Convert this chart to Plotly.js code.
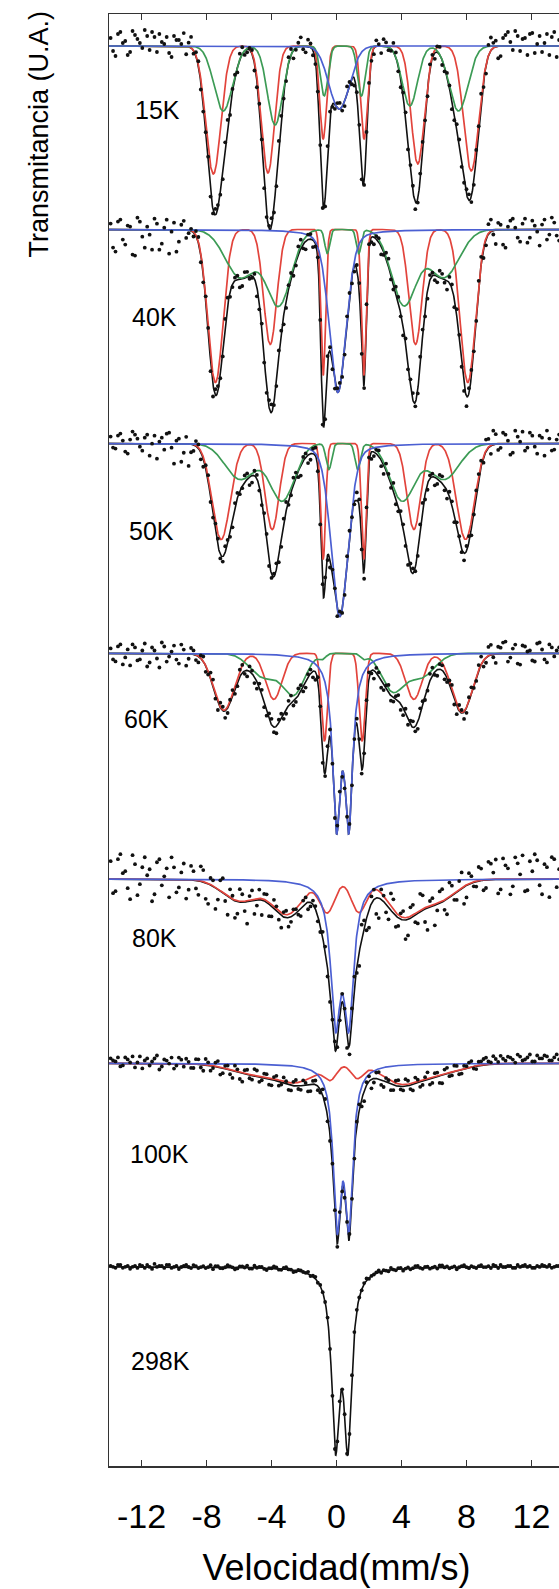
<!DOCTYPE html>
<html><head><meta charset="utf-8">
<script src="https://cdn.plot.ly/plotly-3.0.1.min.js"></script>
<style>html,body{margin:0;padding:0;overflow:hidden;background:#fff}#chart{width:584px;height:1589px}</style>
</head><body><div id="chart"></div>
<script>
// ================= DATA =================
const temperatures = ['15K','40K','50K','60K','80K','100K','298K'];
// off-resonance level of each stacked spectrum (U.A.)
const baselines = [142.0, 123.65, 102.25, 81.27, 58.7, 40.27, 19.93];

// measured velocity channels (mm/s), two interleaved halves
const channelsA = [-13.9,-13.6,-13.3,-13.0,-12.7,-12.4,-12.1,-11.8,-11.5,-11.2,-10.9,-10.6,-10.3,-10.0,-9.7,-9.4,-9.1,
 -8.8,-8.5,-8.2,-7.9,-7.6,-7.3,-7.0,-6.7,-6.4,-6.1,-5.8,-5.5,-5.2,-4.9,
 -4.6,-4.3,-4.0,-3.7,-3.4,-3.1,-2.8,-2.5,-2.2,-1.9,-1.6,-1.3,-1.0,-0.7,-0.4,-0.1,
 0.2,0.5,0.8,1.1,1.4,1.7,2.0,2.3,2.6,2.9,3.2,3.5,3.8,4.1,
 4.4,4.7,5.0,5.3,5.6,5.9,6.2,6.5,6.8,7.1,7.4,7.7,8.0,8.3,8.6,
 8.9,9.2,9.5,9.8,10.1,10.4,10.7,11.0,11.3,11.6,11.9,12.2,12.5,12.8,13.1,13.4,13.7];
const channelsB = [-13.75,-13.45,-13.15,-12.85,-12.55,-12.25,-11.95,-11.65,-11.35,-11.05,-10.75,-10.45,-10.15,-9.85,-9.55,-9.25,-8.95,
 -8.65,-8.35,-8.05,-7.75,-7.45,-7.15,-6.85,-6.55,-6.25,-5.95,-5.65,-5.35,-5.05,-4.75,
 -4.45,-4.15,-3.85,-3.55,-3.25,-2.95,-2.65,-2.35,-2.05,-1.75,-1.45,-1.15,-0.85,-0.55,-0.25,0.05,
 0.35,0.65,0.95,1.25,1.55,1.85,2.15,2.45,2.75,3.05,3.35,3.65,3.95,4.25,
 4.55,4.85,5.15,5.45,5.75,6.05,6.35,6.65,6.95,7.25,7.55,7.85,8.15,8.45,8.75,
 9.05,9.35,9.65,9.95,10.25,10.55,10.85,11.15,11.45,11.75,12.05,12.35,12.65,12.95,13.25,13.55,13.85];

// scatter of the measured points about the fitted curve (0.1 U.A.), for channelsA and channelsB
const scatter15 = [8,-10,14,5,-6,11,3,16,-4,9,12,2,-7,10,6,13,4, -3,5,-6,8,-4,3,-9,6,2,-5,7,-3,4,-6, 5,-4,8,-7,3,-5,6,-2,9,-6,4,-3,7,-8,5,-4, 6,-5,3,-7,8,-4,5,-6,2,7,-3,9,-5,4, -6,5,-4,8,-7,3,6,-5,4,-8,6,-3,5,-6,7, 9,-8,13,6,-10,11,4,15,-5,8,12,-7,10,3,-9,14,6];
const scatter15b = [-5,12,3,-9,15,7,-2,10,14,-6,4,9,-11,6,2,-8,11, 4,-7,2,-5,6,-3,5,-8,3,6,-4,2,-7,5, -6,3,-5,7,-4,6,-8,4,-3,7,-5,2,-6,8,-3,5, -4,7,-6,3,-5,8,-3,6,-7,4,-2,5,-8,6, 4,-7,6,-3,5,-6,8,-4,3,-5,7,-2,6,-4,3, -6,11,5,-12,8,14,-4,10,7,-9,13,2,-6,12,9,-11,5];
const scatter40 = [6,-22,10,-15,3,-26,8,-18,-5,11,-20,2,-24,7,-12,9,-3, -4,6,-8,3,-12,5,-6,8,-3,4,-7,5,-2,-9, 4,-6,8,-5,3,-7,6,-4,9,-8,5,-3,7,-10,4,-6, 5,-8,3,-6,9,-4,6,-7,4,-3,8,-5,6,-9, -5,7,-4,6,-8,3,-6,5,-9,4,7,-3,-10,6,-4, 8,-6,12,-14,5,-18,9,2,-12,11,-8,4,-16,10,-5,7,-11];
const scatter40b = [-18,8,-10,4,-25,12,-7,3,-20,6,-14,10,-2,-22,5,-8,2, 5,-7,4,-10,6,-4,7,-5,3,-8,6,-3,5,-6, -5,7,-3,6,-9,4,-6,8,-4,5,-7,3,-8,6,-5,4, -6,4,-7,5,-3,8,-5,3,-8,6,-4,7,-3,5, 6,-4,8,-7,5,-5,7,-3,6,-8,4,-6,5,-3,7, -9,10,-4,7,-15,3,11,-8,6,-13,9,-2,5,-10,12,-6,3];
const scatter50 = [7,-5,10,-8,4,9,-3,6,-12,8,2,-6,11,-20,5,-9,-22, -6,4,-8,6,-3,7,-5,3,-9,5,-2,6,-7,4, -5,7,-4,6,-8,9,-3,5,-10,4,-6,8,-4,6,-7,3, 5,-6,4,-3,7,-8,5,-4,6,-9,3,8,-5,4, -7,5,-4,8,-6,3,-5,7,-8,4,6,-3,5,-7,4, 6,12,-8,10,-4,9,-11,13,2,-7,11,-3,8,-12,5,-6,9];
const scatter50b = [-4,8,3,-10,12,5,-7,9,0,-15,6,10,-4,3,-18,7,-8, 5,-7,3,-5,8,-4,6,-6,4,-3,7,-8,5,-4, 6,-5,3,-7,5,-4,7,-6,4,-8,5,-3,6,-5,4,-7, -4,6,-5,8,-3,5,-7,4,-6,7,-4,-6,5,-3, 6,-4,7,-5,3,-8,6,-4,5,-6,4,-7,6,-3,5, -5,9,14,-6,11,3,-9,7,12,-4,8,-10,6,13,-7,4,-2];
const scatter60 = [5,-8,9,-4,-12,6,-6,10,-9,3,-14,7,-3,8,-10,4,-5, 4,-6,5,-3,7,-8,4,-5,6,-4,8,-6,3,-7, 5,-4,6,-7,4,-5,8,-3,6,-6,4,-8,5,-3,7,-5, 4,-6,5,-4,7,-3,6,-8,4,-5,8,-4,6,-7, -5,6,-7,4,-3,8,-6,5,-4,7,-8,3,-5,6,-4, 8,-5,10,-9,6,12,-4,9,-11,7,3,-8,11,-6,9,-3,6];
const scatter60b = [-6,7,-11,4,9,-7,3,-13,6,-5,11,-8,2,-6,9,-12,6, -5,3,-6,6,-4,5,-7,3,-5,7,-3,5,-6,4, -4,6,-5,3,-6,5,-4,7,-5,3,-6,4,-7,5,-3,6, -5,3,-6,5,-4,6,-3,5,-7,4,-5,3,-6,5, 4,-5,6,-4,7,-3,5,-6,4,-5,6,-7,4,-3,5, -6,9,-3,7,11,-8,5,-10,8,2,-7,10,4,-9,6,3,-5];
const scatter80 = [18,-12,25,8,-20,15,-5,22,10,-15,20,3,-18,12,-8,16,-10, 9,-14,12,-20,6,-10,15,-18,4,-12,8,-22,10,-6, -15,8,-10,5,-12,7,-5,4,-8,6,-4,3,-6,5,-10,8, -6,4,-9,12,-14,8,-18,10,-20,6,-12,14,-8,9, -16,12,-10,15,-22,8,-6,13,-15,10,-8,16,-12,7,-5, 12,-8,16,20,-10,14,-15,22,5,-12,18,25,-6,15,-18,20,10];
const scatter80b = [-14,20,6,-9,24,-16,12,4,-22,17,-6,11,22,-13,7,-19,14, -8,15,-16,7,-21,11,-6,9,-17,13,-9,5,-14,10, 7,-12,9,-6,5,-9,6,-4,5,-7,4,-5,6,-8,4,-6, 8,-10,11,-6,15,-12,7,-16,10,-8,17,-11,6,-19, 11,-7,18,-13,6,-20,12,-9,15,-6,9,-17,11,-4,14, -10,18,7,-14,21,11,-7,16,24,-11,8,19,-15,12,22,-8,17];
const scatter100 = [5,2,-3,6,1,-4,7,3,-2,5,-6,4,0,-5,6,-3,2, -4,5,-6,3,-2,6,-5,4,-7,3,-8,5,-4,6, -3,4,-6,5,-2,3,-5,6,-4,2,-7,4,-3,5,-6,3, 4,-5,3,-8,6,-10,5,-4,7,-6,3,-5,6,-4, 5,-6,3,-4,7,-5,4,-8,6,-3,5,-4,2,6,-3, 4,7,2,5,8,3,6,1,7,4,9,2,5,8,3,6,4];
const scatter100b = [3,6,-2,4,7,1,-5,5,2,8,-3,3,6,-2,4,5,-4, 5,-3,6,-5,4,-7,3,-4,6,-6,4,-3,7,-5, 4,-6,3,-4,6,-5,4,-3,5,-7,3,-4,6,-5,2,-3, -4,5,-6,4,-7,3,-9,6,-5,4,-6,5,-3,7, -4,6,-5,3,-6,4,-7,5,-3,6,-4,3,5,-2,4, 6,3,8,2,5,7,4,9,3,6,2,8,5,7,3,9,5];
const scatter298 = [1,-1,2,0,-2,1,2,-1,0,3,1,-1,2,0,-2,1,0, 2,-1,1,0,-2,1,-1,2,0,-1,1,2,-1,0, 1,-2,0,1,-1,2,0,-1,1,0,-1,2,1,0,-1,1, 0,1,-1,2,0,1,-1,0,2,1,-1,0,1,-2, 1,0,2,-1,1,0,-1,2,1,0,-2,1,0,1,-1, 2,0,-1,1,2,0,1,-1,0,2,1,-1,0,1,2,0,1];
const scatter298b = [0,2,-1,1,0,-1,1,2,-2,0,1,2,-1,1,0,2,-1, 1,0,-1,2,1,-1,0,1,-2,1,0,-1,2,1, -1,0,2,-1,1,0,-2,1,0,2,1,-1,0,1,2,-1, 1,-1,0,1,-1,2,0,1,-1,0,2,-1,1,0, -1,2,0,1,-1,1,2,0,-1,1,0,2,-1,0,1, 0,1,2,-1,0,1,-1,2,1,0,-1,1,2,0,-1,1,0];

// fitted sub-spectra: line positions (mm/s), depths (U.A.), widths FWHM (mm/s)
const red15Pos = [-7.58,-4.22,-0.82,1.70,5.00,8.29], red15Dep = [12.8,12.7,9.3,9.3,11.8,12.5], red15Wid = [1.1,0.95,0.5,0.5,0.95,1.1];
const grn15Pos = [-6.97,-3.78,-0.76,1.53,4.51,7.51], grn15Dep = [6.5,7.9,5.0,5.0,6.0,6.5], grn15Wid = [1.35,1.1,0.55,0.55,1.1,1.35];
const blu15Pos = [0.17], blu15Dep = [6.3], blu15Wid = [1.5];

const red40Pos = [-7.45,-4.08,-0.82,1.68,4.86,8.08], red40Dep = [15.3,11.5,14.6,14.6,11.5,15.3], red40Wid = [1.1,0.95,0.35,0.35,0.95,1.1];
const grn40Pos = [-5.91,-3.55,-0.57,1.37,4.14,6.60], grn40Dep = [4.8,7.5,2.4,2.4,7.5,4.8], grn40Wid = [2.2,1.8,0.35,0.35,1.8,2.2];
const blu40Pos = [0.08], blu40Dep = [16.3], blu40Wid = [1.25];

const red50Pos = [-7.10,-3.96,-0.82,1.68,4.76,7.94], red50Dep = [9.6,8.6,11.6,11.6,8.6,9.6], red50Wid = [1.3,1.0,0.35,0.35,1.0,1.3];
const grn50Pos = [-5.91,-3.34,-0.47,1.31,4.04,6.60], grn50Dep = [3.6,5.7,2.6,2.6,5.7,3.6], grn50Wid = [2.2,1.8,0.4,0.4,1.8,2.2];
const blu50Pos = [0.2], blu50Dep = [17.3], blu50Wid = [1.25];

const red60Pos = [-6.93,-3.86,-0.74,1.58,4.76,7.73], red60Dep = [5.7,4.6,8.8,8.8,4.6,5.9], red60Wid = [1.5,1.2,0.45,0.45,1.2,1.5];
const grn60Pos = [-4.47,-2.63,-0.88,1.68,3.43,5.17], grn60Dep = [2.4,4.0,0.5,0.5,3.6,2.4], grn60Wid = [2.0,1.6,0.5,0.5,1.6,2.0];
const blu60Pos = [0.0,0.76], blu60Dep = [16.0,16.0], blu60Wid = [0.58,0.58];

const red80Pos = [-5.91,-3.04,-0.57,1.37,4.04,6.20], red80Dep = [2.2,3.5,3.3,3.3,3.5,2.2], red80Wid = [2.6,2.2,1.1,1.1,2.2,2.6];
const blu80Pos = [-0.06,0.76], blu80Dep = [13.2,13.2], blu80Wid = [0.72,0.72];

const red100Pos = [-5.0,-2.4,-0.37,1.27,3.8,6.0], red100Dep = [1.1,1.7,1.4,1.4,1.7,1.1], red100Wid = [3.5,2.6,0.9,0.9,2.6,3.5];
const blu100Pos = [0.04,0.76], blu100Dep = [15.0,15.0], blu100Wid = [0.58,0.58];

const dbl298Pos = [-0.06,0.70], dbl298Dep = [16.7,16.7], dbl298Wid = [0.58,0.58];

// ================= BUILD =================
const RED = '#e2443c', GREEN = '#3c9b55', BLUE = '#4b5fd2', BLACK = '#111111';
function comp(pos, dep, wid, eta, color, draw) { return {pos, dep, wid, eta, color, draw}; }
const spectra = [
  [comp(red15Pos,red15Dep,red15Wid,0,RED,true), comp(grn15Pos,grn15Dep,grn15Wid,0,GREEN,true), comp(blu15Pos,blu15Dep,blu15Wid,0,BLUE,true)],
  [comp(red40Pos,red40Dep,red40Wid,0,RED,true), comp(grn40Pos,grn40Dep,grn40Wid,0,GREEN,true), comp(blu40Pos,blu40Dep,blu40Wid,0.3,BLUE,true)],
  [comp(red50Pos,red50Dep,red50Wid,0,RED,true), comp(grn50Pos,grn50Dep,grn50Wid,0,GREEN,true), comp(blu50Pos,blu50Dep,blu50Wid,0.3,BLUE,true)],
  [comp(red60Pos,red60Dep,red60Wid,0,RED,true), comp(grn60Pos,grn60Dep,grn60Wid,0,GREEN,true), comp(blu60Pos,blu60Dep,blu60Wid,1,BLUE,true)],
  [comp(red80Pos,red80Dep,red80Wid,0,RED,true), comp(blu80Pos,blu80Dep,blu80Wid,1,BLUE,true)],
  [comp(red100Pos,red100Dep,red100Wid,0,RED,true), comp(blu100Pos,blu100Dep,blu100Wid,1,BLUE,true)],
  [comp(dbl298Pos,dbl298Dep,dbl298Wid,1,BLACK,false)]
];
const scattersA = [scatter15, scatter40, scatter50, scatter60, scatter80, scatter100, scatter298];
const scattersB = [scatter15b, scatter40b, scatter50b, scatter60b, scatter80b, scatter100b, scatter298b];

function absorb(c, v) {
  let s = 0;
  for (let k = 0; k < c.pos.length; k++) {
    const x = (v - c.pos[k]) / c.wid[k];
    const g = Math.exp(-4 * Math.LN2 * x * x);
    const l = 1 / (1 + 4 * x * x);
    s += c.dep[k] * (c.eta * l + (1 - c.eta) * g);
  }
  return s;
}
const fine = [];
for (let v = -14; v <= 14.3001; v += 0.02) fine.push(+v.toFixed(3));

const traces = [];
spectra.forEach((comps, s) => {
  const base = baselines[s];
  const fit = v => base - comps.reduce((a, c) => a + absorb(c, v), 0);
  traces.push({x: fine, y: fine.map(fit), mode: 'lines', line: {color: BLACK, width: 1.6}, hoverinfo: 'skip'});
  comps.forEach(c => {
    if (!c.draw) return;
    traces.push({x: fine, y: fine.map(v => base - absorb(c, v)), mode: 'lines', line: {color: c.color, width: 1.7}, hoverinfo: 'skip'});
  });
  const xs = [], ys = [];
  channelsA.forEach((v, i) => { if (scattersA[s][i] !== undefined) { xs.push(v); ys.push(fit(v) + scattersA[s][i] / 10); } });
  channelsB.forEach((v, i) => { if (scattersB[s][i] !== undefined) { xs.push(v); ys.push(fit(v) + scattersB[s][i] / 10); } });
  traces.push({x: xs, y: ys, mode: 'markers', marker: {color: BLACK, size: 3.8}, hoverinfo: 'skip'});
});

const FONT = 'Liberation Sans, Arial, sans-serif';
const labelX = [-12.55, -12.68, -12.92, -13.17, -12.68, -12.86, -12.74];
const labelY = [135.6, 114.9, 93.5, 74.7, 52.8, 31.2, 10.5];
const annotations = temperatures.map((t, i) => ({
  text: t, x: labelX[i], y: labelY[i], xref: 'x', yref: 'y', xanchor: 'left', yanchor: 'middle',
  showarrow: false, font: {family: FONT, size: 25, color: '#000'}
}));
annotations.push({
  text: 'Transmitancia (U.A.)', textangle: -90, xref: 'paper', yref: 'paper',
  x: -0.156, y: 0.917, xanchor: 'center', yanchor: 'middle', showarrow: false,
  font: {family: FONT, size: 27, color: '#000'}
});

const layout = {
  width: 584, height: 1589,
  margin: {l: 109, r: 20, t: 14, b: 123},
  paper_bgcolor: '#fff', plot_bgcolor: '#fff',
  showlegend: false,
  xaxis: {
    range: [-14, 14], tickvals: [-12, -8, -4, 0, 4, 8, 12], ticktext: ['-12','-8','-4','0','4','8','12'],
    ticks: 'inside', ticklen: 6, tickwidth: 1.2, tickcolor: '#333', ticklabelstandoff: 20,
    showline: true, linecolor: '#333', linewidth: 1.5, mirror: 'ticks',
    showgrid: false, zeroline: false,
    tickfont: {family: FONT, size: 34, color: '#000'},
    title: {text: 'Velocidad(mm/s)', font: {family: FONT, size: 36, color: '#000'}, standoff: 20}
  },
  yaxis: {
    range: [0, 145.2], showline: true, linecolor: '#333', linewidth: 1.5, mirror: true,
    ticks: '', showticklabels: false, showgrid: false, zeroline: false
  },
  annotations
};
Plotly.newPlot('chart', traces, layout, {staticPlot: true, displayModeBar: false});
</script></body></html>
